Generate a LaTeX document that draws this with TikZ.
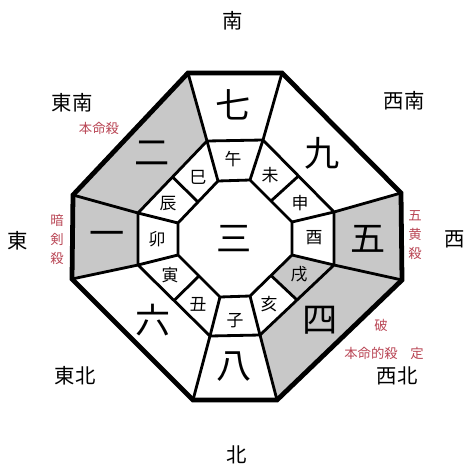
\documentclass[tikz,border=0pt]{standalone}
\usepackage{fontspec}
\newfontfamily\jpfont{Noto Sans CJK JP}
\usetikzlibrary{calc}
\definecolor{sectorgray}{RGB}{200,200,200}
\definecolor{satsured}{RGB}{185,70,85}

\tikzset{
  board/.style={line width=3.4pt,line join=miter},
  cellline/.style={line width=2pt,line join=miter},
  starnum/.style={font=\jpfont\fontsize{25}{25}\selectfont},
  branch/.style={font=\jpfont\fontsize{12}{12}\selectfont},
  compass/.style={font=\jpfont\fontsize{14.5}{14.5}\selectfont},
  satsu/.style={font=\jpfont\fontsize{9.5}{13.5}\selectfont,text=satsured,align=center,inner sep=0pt}
}

\begin{document}
\begin{tikzpicture}[x=0.025cm,y=-0.025cm]
\useasboundingbox (0,0) rectangle (474,474);
% corners of the three octagons
\foreach \n/\x/\y in {1/188/73,2/282/73,3/401/193,4/402/280,5/277/400,6/193/400,7/72/279,8/73/195}{
\coordinate (O\n) at (\x,\y);}
\foreach \n/\x/\y in {1/207/141,2/263/140,3/334/212,4/334/265,5/260/335,6/210/336,7/138/265,8/138/213}{
\coordinate (M\n) at (\x,\y);}
\foreach \n/\x/\y in {1/218/181,2/250/180,3/292/222,4/292/255,5/250/296,6/220/297,7/178/255,8/178/223}{
\coordinate (I\n) at (\x,\y);}

% grey sectors
\fill[sectorgray] (O8)--(O1)--(M1)--(M8)--cycle;
\fill[sectorgray] (O7)--(O8)--(M8)--(M7)--cycle;
\fill[sectorgray] (O3)--(O4)--(M4)--(M3)--cycle;
\fill[sectorgray] (O4)--(O5)--(M5)--(M4)--cycle;
\fill[sectorgray] (M4)--($(M4)!0.5!(M5)$)--($(I4)!0.5!(I5)$)--(I4)--cycle;

% lines
\draw[cellline] (M1)--(M2)--(M3)--(M4)--(M5)--(M6)--(M7)--(M8)--cycle;
\draw[cellline] (I1)--(I2)--(I3)--(I4)--(I5)--(I6)--(I7)--(I8)--cycle;
\foreach \i in {1,...,8}{
\draw[cellline] (I\i)--(M\i)--(O\i);}
\foreach \a/\b in {8/1,2/3,4/5,6/7}{
\draw[cellline] ($(I\a)!0.5!(I\b)$)--($(M\a)!0.5!(M\b)$);}
\draw[board] (O1)--(O2)--(O3)--(O4)--(O5)--(O6)--(O7)--(O8)--cycle;

% nine stars
\foreach \x/\y/\t/\nm in {233/105/七/sSeven,322/153/九/sNine,368/239/五/sFive,320/320/四/sFour,
  234/367/八/sEight,153/320/六/sSix,107/239/一/sOne,152/153/二/sTwo,234/239/三/sThree}{
\node[starnum] (\nm) at (\x,\y) {\t};}

% twelve branches
\foreach \x/\y/\t/\nm in {233/159/午/bHorse,270/175/未/bSheep,300/203/申/bMonkey,314/238/酉/bRooster,
  299/274/戌/bDog,269/304/亥/bBoar,235/321/子/bRat,198/304/丑/bOx,170/275/寅/bTiger,
  157/239/卯/bRabbit,168/204/辰/bDragon,198/177/巳/bSnake}{
\node[branch] (\nm) at (\x,\y) {\t};}

% directions
\foreach \x/\y/\t/\nm in {233/21/南/dS,237/455/北/dN,18/241/東/dE,455/239/西/dW,
  72/103/東南/dSE,404/101/西南/dSW,75/376/東北/dNE,397/376/西北/dNW}{
\node[compass] (\nm) at (\x,\y) {\t};}

% red notes
\node[satsu] (tHonmei) at (99,128) {本命殺};
\node[satsu] (tAnken) at (57,239) {暗\\剣\\殺};
\node[satsu] (tGoou) at (415,235) {五\\黄\\殺};
\node[satsu] (tHa) at (381,325) {破};
\node[satsu] (tHonmeiteki) at (371,353) {本命的殺};
\node[satsu] (tJou) at (417,353) {定};
\end{tikzpicture}
\end{document}
